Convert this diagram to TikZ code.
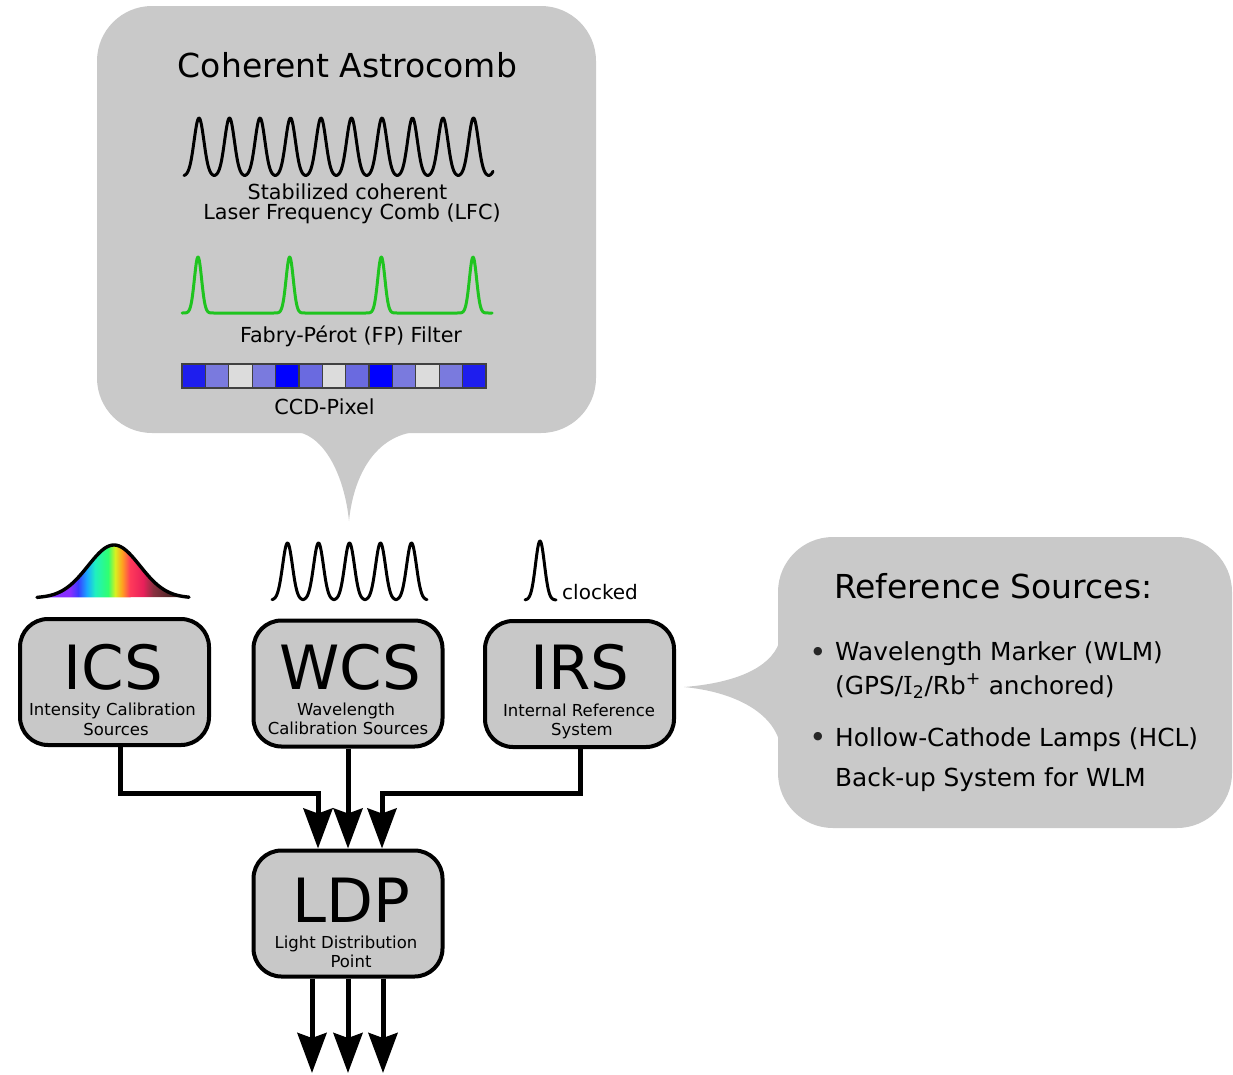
\documentclass[tikz,border=0pt]{standalone}
\usepackage{fontspec}
\setmainfont{DejaVu Sans}
\newfontfamily\serifI{DejaVu Serif}
\usetikzlibrary{arrows.meta}

\definecolor{panel}{HTML}{C8C8C8}
\definecolor{bubble}{HTML}{C9C9C9}
\definecolor{combgreen}{HTML}{1FC41F}
\definecolor{pxA}{HTML}{1E1EEE}
\definecolor{pxB}{HTML}{7A7ADE}
\definecolor{pxC}{HTML}{DCDCDC}
\definecolor{pxD}{HTML}{0000FF}
\definecolor{pxE}{HTML}{6A6AE0}

% spectral colours under the intensity profile
\definecolor{rA}{HTML}{7A30FF}
\definecolor{rB}{HTML}{8A2EFF}
\definecolor{rC}{HTML}{3A3CFF}
\definecolor{rD}{HTML}{1AA8FF}
\definecolor{rE}{HTML}{20F0C0}
\definecolor{rF}{HTML}{30FF70}
\definecolor{rG}{HTML}{D8F020}
\definecolor{rH}{HTML}{FFA020}
\definecolor{rI}{HTML}{FF3A5A}
\definecolor{rJ}{HTML}{E8205A}
\definecolor{rK}{HTML}{8A3040}
\definecolor{rL}{HTML}{502828}
\definecolor{rM}{HTML}{402020}
\pgfdeclarehorizontalshading{rainbow}{100bp}{color(0bp)=(rA); color(25bp)=(rA);
  color(35.9bp)=(rB); color(38.5bp)=(rC); color(41.4bp)=(rD); color(44.1bp)=(rE);
  color(48.4bp)=(rF); color(50.7bp)=(rG); color(53bp)=(rH); color(55.6bp)=(rI);
  color(59.9bp)=(rJ); color(63.2bp)=(rK); color(68.8bp)=(rL); color(75bp)=(rM);
  color(100bp)=(rM)}

\begin{document}
\begin{tikzpicture}[x=1pt,y=-1pt,
  box/.style={draw=black, line width=4pt, fill=panel, rounded corners=28pt,
    minimum width=189pt, minimum height=126pt, inner sep=0pt},
  big/.style={anchor=base, inner sep=0pt, font=\fontsize{61}{61}\selectfont},
  sub/.style={anchor=base, inner sep=0pt, font=\fontsize{16.5}{20}\selectfont},
  caption/.style={anchor=base, inner sep=0pt, font=\fontsize{20.7}{24}\selectfont},
  heading/.style={anchor=base, inner sep=0pt, font=\fontsize{33}{38}\selectfont},
  item/.style={anchor=base west, inner sep=0pt, font=\fontsize{24.8}{30}\selectfont},
  dot/.style={inner sep=0pt, text=black!85, font=\fontsize{11}{11}\selectfont},
  comb/.style={line width=3pt, line join=round, line cap=round},
  flow/.style={line width=5pt, -{Stealth[length=40pt,width=29pt,inset=5pt]}},
]
\useasboundingbox (0,0) rectangle (1233,1074);

% ---- callout: coherent astrocomb ----
\fill[bubble, rounded corners=55pt] (97,6) rectangle (596,433);
\fill[bubble] (298,432) .. controls (327,438) and (345,480) .. (349,521)
  .. controls (353,480) and (372,438) .. (414,432) -- cycle;

\node[heading] (title) at (347.5,77) {Coherent Astrocomb};
\draw[comb] plot[domain=184:493, samples=500]
  (\x, {176-58*exp(-((mod(\x-183.75,30.5)-15.25)^2)/48)});
\node[caption] (lfcA) at (347.5,199) {Stabilized coherent};
\node[caption] (lfcB) at (352,219) {Laser Frequency Comb (LFC)};
\draw[comb, combgreen] plot[domain=182:492, samples=500]
  (\x, {313-56*exp(max(-((mod(\x-152.17,91.67)-45.83)^2)/26,-9))});
\node[caption] (fp) at (351,342) {Fabry-Pérot (FP) Filter};
\foreach \c [count=\i from 0] in {pxA,pxB,pxC,pxB,pxD,pxE,pxC,pxE,pxD,pxB,pxC,pxB,pxA}
  \filldraw[fill=\c, draw=black!75, line width=1.2pt]
    ({182+\i*23.38},364) rectangle ++(23.38,24);
\node[caption] (ccd) at (324.5,414) {CCD-Pixel};

% ---- callout: reference sources ----
\fill[bubble, rounded corners=55pt] (778,537) rectangle (1232,828);
\fill[bubble] (779,643) .. controls (770,668) and (735,683) .. (684,687)
  .. controls (735,692) and (770,712) .. (779,740) -- cycle;
\node[heading, anchor=base west] (refs) at (834,598) {Reference Sources:};
\node[dot] (dotA) at (818,652) {●};
\node[item] (wlm) at (835,660) {Wavelength Marker (WLM)};
\node[item] (anch) at (835,694) {(GPS/{\serifI I}\textsubscript{2}/Rb\textsuperscript{+} anchored)};
\node[dot] (dotB) at (818,737) {●};
\node[item] (hcl) at (835,746) {Hollow-Cathode Lamps (HCL)};
\node[item] (backup) at (835,786) {Back-up System for WLM};

% ---- spectra above the source boxes ----
\begin{scope}
  \clip plot[domain=37:189, samples=150] (\x,{598-53*exp(-((\x-114)^2)/1352)}) -- cycle;
  \shade[shading=rainbow] (37,540) rectangle (189,600);
\end{scope}
\draw[comb, line width=3.4pt] plot[domain=37:189, samples=150]
  (\x,{598-53*exp(-((\x-114)^2)/1352)});
\draw[comb] plot[domain=272:427, samples=300]
  (\x, {600-57*exp(-((mod(\x-272,31)-15.5)^2)/48)});
\draw[comb] plot[domain=525:556, samples=80]
  (\x, {600-59*exp(-((\x-540)^2)/40)});
\node[anchor=base west, inner sep=0pt, font=\fontsize{20}{24}\selectfont] (clk) at (562,599) {clocked};

% ---- source boxes ----
\node[box] (ics) at (114.5,682) {};
\node[box] (wcs) at (348,683.5) {};
\node[box] (irs) at (579.5,684) {};
\node[box] (ldp) at (348,913.5) {};

\node[big] (icsA) at (113.5,689) {ICS};
\node[sub] (icsB) at (112.5,715.5) {Intensity Calibration};
\node[sub] (icsC) at (116,735) {Sources};
\node[big] (wcsA) at (350,689) {WCS};
\node[sub] (wcsB) at (346,715) {Wavelength};
\node[sub] (wcsC) at (348,734.5) {Calibration Sources};
\node[big] (irsA) at (580,689) {IRS};
\node[sub] (irsB) at (579,716) {Internal Reference};
\node[sub] (irsC) at (582,735) {System};
\node[big] (ldpA) at (351,922) {LDP};
\node[sub] (ldpB) at (346,948) {Light Distribution};
\node[sub] (ldpC) at (351,967) {Point};

% ---- light paths ----
\coordinate (jl) at (318,793);
\coordinate (jr) at (382,793);
\draw[flow] ([xshift=5.5pt]ics.south) |- (jl) -- ([xshift=-30pt]ldp.north);
\draw[flow] (wcs.south) -- (ldp.north);
\draw[flow] ([xshift=0.5pt]irs.south) |- (jr) -- ([xshift=34pt]ldp.north);

\coordinate (oA) at (312,1073);
\coordinate (oB) at (348,1073);
\coordinate (oC) at (383,1073);
\draw[flow] (ldp.south -| oA) -- (oA);
\draw[flow] (ldp.south -| oB) -- (oB);
\draw[flow] (ldp.south -| oC) -- (oC);
\end{tikzpicture}
\end{document}
